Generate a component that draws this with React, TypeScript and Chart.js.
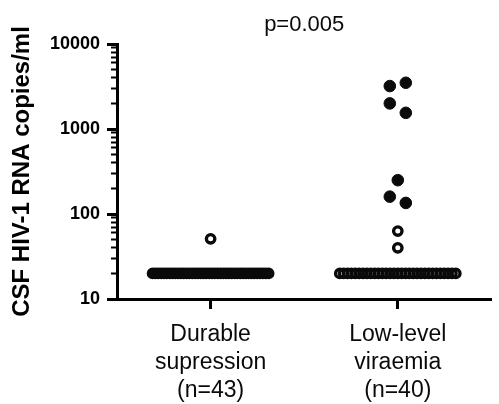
import { useEffect, useRef } from "react";
import { Chart, registerables } from "chart.js";

Chart.register(...registerables);
Chart.defaults.font.family = "'Liberation Sans', Arial, Helvetica, sans-serif";

// ---- data ----
const categories: string[][] = [
  ["Durable", "supression", "(n=43)"],
  ["Low-level", "viraemia", "(n=40)"],
];
const pValueText = "p=0.005";
const yAxisTitle = "CSF HIV-1 RNA copies/ml";
const yMajorTicks = [10, 100, 1000, 10000];
const yMinorTicks = [
  20, 30, 40, 50, 60, 70, 80, 90,
  200, 300, 400, 500, 600, 700, 800, 900,
  2000, 3000, 4000, 5000, 6000, 7000, 8000, 9000,
];
// Durable suppression (n=43): all open circles
const durableOpen = [
  51,
  20, 20, 20, 20, 20, 20, 20, 20, 20, 20,
  20, 20, 20, 20, 20, 20, 20, 20, 20, 20,
  20, 20, 20, 20, 20, 20, 20, 20, 20, 20,
  20, 20, 20, 20, 20, 20, 20, 20, 20, 20,
  20, 20,
];
// Low-level viraemia (n=40): open circles
const llvOpen = [
  63, 40,
  20, 20, 20, 20, 20, 20, 20, 20, 20, 20,
  20, 20, 20, 20, 20, 20, 20, 20, 20, 20,
  20, 20, 20, 20, 20, 20, 20, 20, 20, 20,
  20,
];
// Low-level viraemia: filled circles
const llvFilled = [3200, 3500, 2000, 1550, 250, 160, 135];

// ---- layout constants for the column scatter (beeswarm-like) ----
const ROW_GAP_PX = 14;
const PAIR_STEP_PX = 16;
const MAX_SPREAD_PX = 116;

function swarm(values: number[], center: number, chart: Chart) {
  const xs: any = chart.scales.x;
  const ys: any = chart.scales.y;
  const cx = xs.getPixelForValue(center);
  const out: { x: number; y: number }[] = [];
  let i = 0;
  while (i < values.length) {
    const y0 = ys.getPixelForValue(values[i]);
    let j = i + 1;
    while (j < values.length && Math.abs(ys.getPixelForValue(values[j]) - y0) < ROW_GAP_PX) j++;
    const n = j - i;
    const step = n > 1 ? Math.min(PAIR_STEP_PX, MAX_SPREAD_PX / (n - 1)) : 0;
    for (let k = 0; k < n; k++) {
      const px = cx + (k - (n - 1) / 2) * step;
      out.push({ x: xs.getValueForPixel(px), y: values[i + k] });
    }
    i = j;
  }
  return out;
}

const INK = "#0a0a0a";

export default function App() {
  const ref = useRef<HTMLCanvasElement>(null);

  useEffect(() => {
    if (!ref.current) return;
    const chart = new Chart(ref.current, {
      type: "scatter",
      data: {
        datasets: [
          {
            label: "Durable suppression",
            data: durableOpen.map((v) => ({ x: 0, y: v })),
            pointRadius: 4.2,
            pointBorderWidth: 3.4,
            pointBorderColor: INK,
            pointBackgroundColor: "rgba(0,0,0,0)",
          },
          {
            label: "Low-level viraemia (open)",
            data: llvOpen.map((v) => ({ x: 1, y: v })),
            pointRadius: 4.2,
            pointBorderWidth: 3.4,
            pointBorderColor: INK,
            pointBackgroundColor: "rgba(0,0,0,0)",
          },
          {
            label: "Low-level viraemia (filled)",
            data: llvFilled.map((v) => ({ x: 1, y: v })),
            pointRadius: 5.8,
            pointBorderWidth: 1,
            pointBorderColor: INK,
            pointBackgroundColor: INK,
          },
        ],
      },
      options: {
        animation: false,
        responsive: true,
        maintainAspectRatio: false,
        layout: { padding: 0 },
        plugins: {
          legend: { display: false },
          tooltip: { enabled: false },
          title: {
            display: true,
            text: pValueText,
            fullSize: false,
            color: INK,
            font: { size: 22, weight: "normal" },
            padding: { top: 11.5, bottom: 6.1 },
          },
        },
        scales: {
          x: {
            type: "linear",
            min: -0.5,
            max: 1.5,
            afterBuildTicks: (s: any) => {
              s.ticks = categories.map((_, i) => ({ value: i }));
            },
            afterFit: (s: any) => {
              s.height = 105;
            },
            ticks: {
              autoSkip: false,
              maxRotation: 0,
              color: INK,
              padding: 12,
              font: { size: 23, lineHeight: 1.22 },
              callback: (_v: any, i: number) => categories[i],
            },
            grid: {
              drawOnChartArea: false,
              drawTicks: true,
              tickLength: 10,
              tickWidth: 3,
              tickColor: "#000",
            },
            border: { display: true, width: 3, color: "#000" },
          },
          y: {
            type: "logarithmic",
            position: "left",
            weight: 1,
            min: 10,
            max: 10000,
            afterBuildTicks: (s: any) => {
              s.ticks = yMajorTicks.map((v) => ({ value: v }));
            },
            afterFit: (s: any) => {
              s.width = 117;
            },
            ticks: {
              autoSkip: false,
              color: "#000",
              padding: 7,
              font: { size: 18, weight: "bold" },
              callback: (v: any) => String(v),
            },
            grid: {
              drawOnChartArea: false,
              drawTicks: true,
              tickLength: 10,
              tickWidth: 3,
              tickColor: "#000",
            },
            border: { display: true, width: 3, color: "#000" },
            title: {
              display: true,
              text: yAxisTitle,
              color: "#000",
              font: { size: 24, weight: "bold" },
              padding: { top: 8, bottom: 0 },
            },
          },
          yMinor: {
            type: "logarithmic",
            position: "left",
            weight: 0,
            min: 10,
            max: 10000,
            afterBuildTicks: (s: any) => {
              s.ticks = yMinorTicks.map((v) => ({ value: v }));
            },
            afterFit: (s: any) => {
              s.width = 0;
            },
            ticks: { display: false, autoSkip: false },
            grid: {
              drawOnChartArea: false,
              drawTicks: true,
              tickLength: 6,
              tickWidth: 2,
              tickColor: "#000",
            },
            border: { display: false },
          },
        },
      } as any,
    });

    chart.data.datasets[0].data = swarm(durableOpen, 0, chart) as any;
    chart.data.datasets[1].data = swarm(llvOpen, 1, chart) as any;
    chart.data.datasets[2].data = swarm(llvFilled, 1, chart) as any;
    chart.update();

    return () => chart.destroy();
  }, []);

  return (
    <div
      style={{
        position: "fixed",
        left: 0,
        top: 0,
        width: 499,
        height: 404,
        background: "#fff",
      }}
    >
      <canvas ref={ref} />
    </div>
  );
}
